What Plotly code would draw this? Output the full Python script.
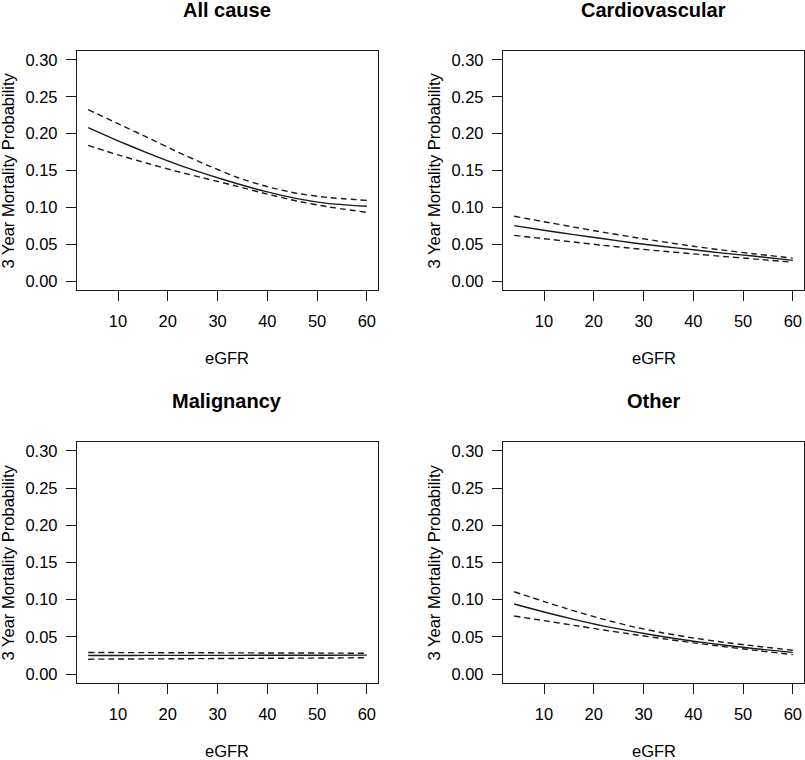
import plotly.graph_objects as go

# ---------------- data ----------------
panel_titles = ["All cause", "Cardiovascular", "Malignancy", "Other"]
x_label = "eGFR"
y_label = "3 Year Mortality Probability"
x_ticks = [10, 20, 30, 40, 50, 60]
y_ticks = [0.00, 0.05, 0.10, 0.15, 0.20, 0.25, 0.30]

egfr = [4, 10, 16, 22, 28, 34, 40, 46, 52, 60]

all_est = [0.2080, 0.1903, 0.1735, 0.1580, 0.1445, 0.1320, 0.1210, 0.1118, 0.1055, 0.1015]
all_hi = [0.2325, 0.2135, 0.1945, 0.1750, 0.1570, 0.1405, 0.1280, 0.1190, 0.1135, 0.1095]
all_lo = [0.1840, 0.1712, 0.1595, 0.1485, 0.1385, 0.1285, 0.1180, 0.1085, 0.1010, 0.0932]

cv_est = [0.0752, 0.0690, 0.0630, 0.0575, 0.0518, 0.0470, 0.0425, 0.0380, 0.0340, 0.0282]
cv_hi = [0.0880, 0.0805, 0.0733, 0.0662, 0.0595, 0.0532, 0.0473, 0.0420, 0.0372, 0.0312]
cv_lo = [0.0620, 0.0575, 0.0530, 0.0485, 0.0443, 0.0405, 0.0370, 0.0335, 0.0302, 0.0256]

mal_est = [0.0250, 0.0250, 0.0251, 0.0251, 0.0252, 0.0252, 0.0253, 0.0254, 0.0254, 0.0255]
mal_hi = [0.0290, 0.0289, 0.0288, 0.0287, 0.0286, 0.0285, 0.0284, 0.0283, 0.0282, 0.0280]
mal_lo = [0.0200, 0.0202, 0.0204, 0.0206, 0.0208, 0.0210, 0.0212, 0.0214, 0.0216, 0.0220]

oth_est = [0.0942, 0.0835, 0.0735, 0.0645, 0.0570, 0.0502, 0.0442, 0.0390, 0.0344, 0.0292]
oth_hi = [0.1107, 0.0975, 0.0850, 0.0735, 0.0635, 0.0553, 0.0485, 0.0428, 0.0380, 0.0320]
oth_lo = [0.0780, 0.0718, 0.0655, 0.0592, 0.0532, 0.0475, 0.0420, 0.0370, 0.0322, 0.0262]

panels = [
    (all_est, all_hi, all_lo),
    (cv_est, cv_hi, cv_lo),
    (mal_est, mal_hi, mal_lo),
    (oth_est, oth_hi, oth_lo),
]

# ---------------- layout geometry (page pixels) ----------------
W, H = 805, 760
FONT = "Liberation Sans, Arial, Helvetica, sans-serif"
col_px = [(77, 378), (503, 804)]
row_px = [(51, 290), (442, 683)]

fig = go.Figure()
ink = "#1a1a1a"
lw = 1.4

for i, (est, hi, lo) in enumerate(panels):
    r, c = divmod(i, 2)
    ax = "" if i == 0 else str(i + 1)
    xa, ya = "x" + ax, "y" + ax
    for ys, dash in ((hi, "6px,4px"), (lo, "6px,4px"), (est, "solid")):
        fig.add_trace(go.Scatter(x=egfr, y=ys, mode="lines", xaxis=xa, yaxis=ya,
                                 line=dict(color=ink, width=lw, dash=dash, shape="spline", smoothing=0.5),
                                 showlegend=False, hoverinfo="skip"))
    x0, x1 = col_px[c]
    y0, y1 = row_px[r]
    fig.layout["xaxis" + ax] = dict(
        domain=[x0 / W, x1 / W], anchor=ya, range=[1.76, 62.24],
        tickvals=x_ticks, ticktext=[str(v) for v in x_ticks],
        ticks="outside", ticklen=10, tickwidth=lw, tickcolor=ink,
        showline=True, mirror=True, linecolor=ink, linewidth=lw,
        showgrid=False, zeroline=False, ticklabelstandoff=6,
        tickfont=dict(family=FONT, size=16.5, color="black"))
    fig.layout["yaxis" + ax] = dict(
        domain=[1 - y1 / H, 1 - y0 / H], anchor=xa, range=[-0.012, 0.312],
        tickvals=y_ticks, ticktext=["%.2f" % v for v in y_ticks],
        ticks="outside", ticklen=10, tickwidth=lw, tickcolor=ink,
        showline=True, mirror=True, linecolor=ink, linewidth=lw,
        showgrid=False, zeroline=False, ticklabelstandoff=5,
        tickfont=dict(family=FONT, size=16.5, color="black"))
    cx = (x0 + x1) / 2
    fig.add_annotation(text="<b>%s</b>" % panel_titles[i], xref="paper", yref="paper",
                       x=cx / W, y=1 - (y0 - 41) / H, xanchor="center", yanchor="middle",
                       showarrow=False, font=dict(family=FONT, size=20, color="black"))
    fig.add_annotation(text=x_label, xref="paper", yref="paper",
                       x=cx / W, y=1 - (y1 + 68) / H, xanchor="center", yanchor="middle",
                       showarrow=False, font=dict(family=FONT, size=16.5, color="black"))
    fig.add_annotation(text=y_label, xref="paper", yref="paper", textangle=-90,
                       x=(x0 - 70) / W, y=1 - ((y0 + y1) / 2) / H, xanchor="center", yanchor="middle",
                       showarrow=False, font=dict(family=FONT, size=16.5, color="black"))

fig.update_layout(width=W, height=H, margin=dict(l=0, r=0, t=0, b=0),
                  paper_bgcolor="white", plot_bgcolor="white")

# remove the browser's default 8px body margin so the figure sits at the page origin
fig.write_html("out.html", config={"displayModeBar": False},
               post_script="document.body.style.margin='0';")
